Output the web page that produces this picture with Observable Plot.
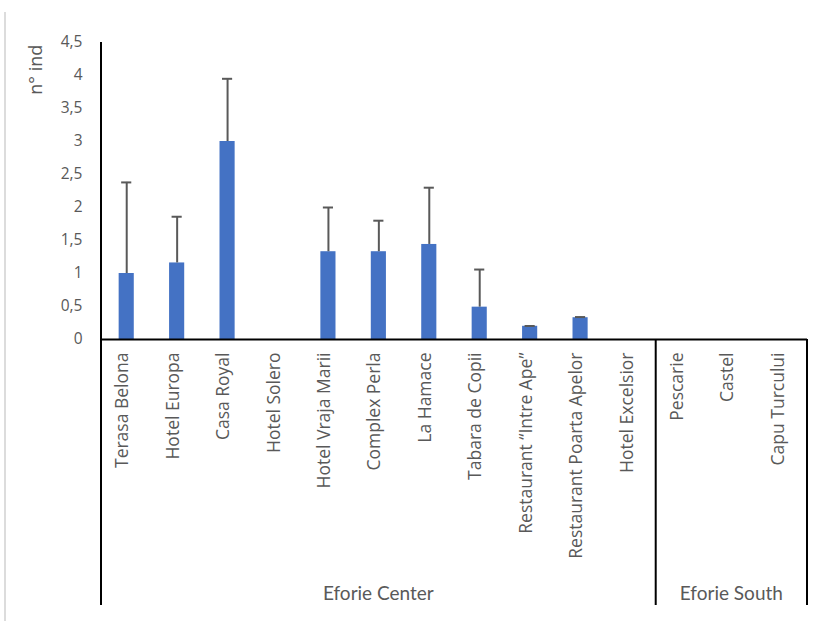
<!DOCTYPE html>
<html>
<head>
<meta charset="utf-8">
<script src="https://cdn.jsdelivr.net/npm/d3@7"></script>
<script src="https://cdn.jsdelivr.net/npm/@observablehq/plot@0.6"></script>
<style>
  html, body { margin: 0; padding: 0; background: #fff; }
  #chart { position: relative; width: 817px; height: 621px; }
  #edge { position: absolute; left: 4px; top: 12px; width: 2px; height: 609px; background: #dcdcdc; }
</style>
</head>
<body>
<div id="chart"><div id="edge"></div></div>
<script>
const categories = ["Terasa Belona", "Hotel Europa", "Casa Royal", "Hotel Solero", "Hotel Vraja Marii", "Complex Perla", "La Hamace", "Tabara de Copii", "Restaurant \u201cIntre Ape\u201d", "Restaurant Poarta Apelor", "Hotel Excelsior", "Pescarie", "Castel", "Capu Turcului"];
const groups = ["Eforie Center", "Eforie Center", "Eforie Center", "Eforie Center", "Eforie Center", "Eforie Center", "Eforie Center", "Eforie Center", "Eforie Center", "Eforie Center", "Eforie Center", "Eforie South", "Eforie South", "Eforie South"];
const values = [1.0, 1.16, 3.0, 0, 1.33, 1.33, 1.44, 0.49, 0.2, 0.33, 0, 0, 0, 0];
const errors = [1.38, 0.7, 0.95, 0, 0.67, 0.47, 0.86, 0.57, 0.005, 0.01, 0, 0, 0, 0];
const yTicks = [0, 0.5, 1, 1.5, 2, 2.5, 3, 3.5, 4, 4.5];
const yLabel = "n° ind";

const data = categories.map((c, i) => ({name: c, group: groups[i], value: values[i], err: errors[i], top: values[i] + errors[i]}));
const errData = data.filter(d => d.value > 0);
const groupNames = Array.from(new Set(groups));

const fmt = v => String(v).replace(".", ",");
const font = "'Open Sans', sans-serif";

const chart = Plot.plot({
  width: 817,
  height: 621,
  marginLeft: 101,
  marginRight: 10,
  marginTop: 42,
  marginBottom: 282,
  style: {fontFamily: font, background: "transparent", overflow: "visible"},
  x: {domain: categories, paddingInner: 0.7, paddingOuter: 0.35, round: false, axis: null},
  y: {domain: [0, 4.5], axis: null},
  marks: [
    Plot.barY(data, {x: "name", y: "value", fill: "#4472C4"}),
    Plot.ruleX(errData, {x: "name", y1: "value", y2: "top", stroke: "#595959", strokeWidth: 2}),
    Plot.tickY(errData, {x: "name", y: "top", stroke: "#595959", strokeWidth: 2, insetLeft: 2.5, insetRight: 2.5}),
    Plot.axisY({ticks: yTicks, tickSize: 0, tickPadding: 19, tickFormat: fmt, fontSize: 15.5, color: "#595959", label: null}),
    Plot.text(data, {x: "name", text: "name", frameAnchor: "bottom", dy: 13, dx: 1.5, rotate: -90, textAnchor: "end", fontSize: 17.5, fill: "#595959"}),
    Plot.ruleY([0], {stroke: "#000", strokeWidth: 2})
  ]
});

document.getElementById("chart").appendChild(chart);
chart.style.position = "absolute";
chart.style.left = "0px";
chart.style.top = "0px";

const sx = chart.scale("x");
const sy = chart.scale("y");
const svg = d3.select(chart);
const half = (sx.step - sx.bandwidth) / 2;
const leftEdge = name => sx.apply(name) - half;
const rightEnd = sx.range[1];
const baseY = sy.apply(0);
const topY = sy.apply(4.5);
const bottomY = 605;

const bounds = groupNames.map(g => {
  const cats = data.filter(d => d.group === g).map(d => d.name);
  const x0 = leftEdge(cats[0]);
  const x1 = leftEdge(cats[cats.length - 1]) + sx.step;
  return {g, x0, x1};
});

const lines = svg.append("g").attr("stroke", "#000").attr("stroke-width", 2);
lines.append("line").attr("x1", bounds[0].x0).attr("x2", bounds[0].x0).attr("y1", topY).attr("y2", bottomY);
bounds.forEach((b, i) => {
  if (i > 0) lines.append("line").attr("x1", b.x0).attr("x2", b.x0).attr("y1", baseY).attr("y2", bottomY);
});
lines.append("line").attr("x1", rightEnd).attr("x2", rightEnd).attr("y1", baseY).attr("y2", bottomY);

svg.append("g").selectAll("text").data(bounds).join("text")
  .attr("x", d => (d.x0 + d.x1) / 2)
  .attr("y", 593)
  .attr("dy", "0.35em")
  .attr("text-anchor", "middle")
  .attr("font-size", 19)
  .attr("font-family", "Lato, sans-serif")
  .attr("fill", "#595959")
  .text(d => d.g);

svg.append("text")
  .attr("transform", `translate(36, ${sy.apply(4.08)}) rotate(-90)`)
  .attr("text-anchor", "middle")
  .attr("dy", "0.35em")
  .attr("font-size", 18)
  .attr("font-family", font)
  .attr("fill", "#595959")
  .text(yLabel);
</script>
</body>
</html>
